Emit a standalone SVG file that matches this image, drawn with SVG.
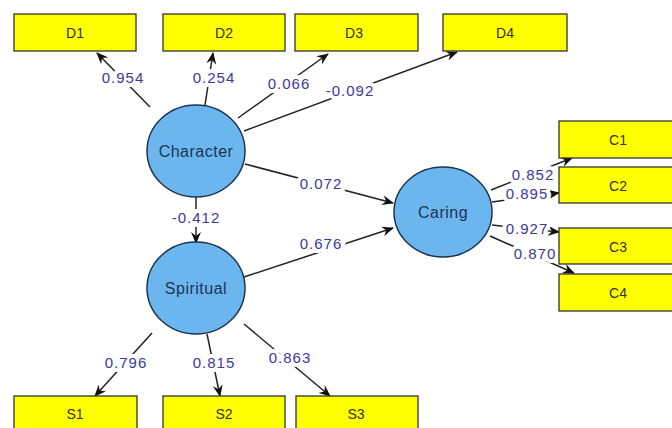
<svg xmlns="http://www.w3.org/2000/svg" width="672" height="428" viewBox="0 0 672 428">
<style>
.box{fill:#ffff00;stroke:#333;stroke-width:1.3}
.lv{fill:#6cb6f0;stroke:#1e3550;stroke-width:1.5}
.bt{font-family:"Liberation Sans",Arial,sans-serif;font-size:14px;fill:#333;text-anchor:middle}
.ct{font-family:"Liberation Sans",Arial,sans-serif;font-size:16px;letter-spacing:0.5px;fill:#1e3550;text-anchor:middle}
.lb{font-family:"Liberation Sans",Arial,sans-serif;font-size:15px;letter-spacing:1px;fill:#3a3a9a;text-anchor:middle;stroke:#fff;stroke-width:8;paint-order:stroke}
.ln{stroke:#222;stroke-width:1.5;fill:none;marker-end:url(#ah)}
</style>
<defs>
<marker id="ah" viewBox="0 0 12 10" refX="11" refY="5" markerWidth="12" markerHeight="10" markerUnits="userSpaceOnUse" orient="auto">
<path d="M0,0 L12,5 L0,10 L4,5 z" fill="#111"/>
</marker>
</defs>
<rect width="672" height="428" fill="#fff"/>
<g id="connectors">
<line class="ln" x1="150" y1="107" x2="97" y2="53"/>
<line class="ln" x1="205" y1="105" x2="213" y2="53"/>
<line class="ln" x1="238" y1="118" x2="328" y2="54"/>
<line class="ln" x1="244" y1="131" x2="457" y2="52"/>
<line class="ln" x1="245" y1="164" x2="393" y2="203"/>
<line class="ln" x1="196" y1="197" x2="196" y2="243"/>
<line class="ln" x1="244" y1="277" x2="393" y2="228"/>
<line class="ln" x1="491" y1="190" x2="572" y2="158"/>
<line class="ln" x1="492" y1="202" x2="559" y2="193"/>
<line class="ln" x1="492" y1="225" x2="559" y2="232"/>
<line class="ln" x1="490" y1="236" x2="574" y2="273"/>
<line class="ln" x1="152" y1="333" x2="95" y2="396"/>
<line class="ln" x1="207" y1="334" x2="220" y2="396"/>
<line class="ln" x1="244" y1="324" x2="330" y2="396"/>
<text class="lb" x="123" y="83">0.954</text>
<text class="lb" x="214" y="83">0.254</text>
<text class="lb" x="289" y="89">0.066</text>
<text class="lb" x="350" y="96">-0.092</text>
<text class="lb" x="321" y="189">0.072</text>
<text class="lb" x="196" y="223">-0.412</text>
<text class="lb" x="321" y="249">0.676</text>
<text class="lb" x="533" y="180">0.852</text>
<text class="lb" x="527" y="199">0.895</text>
<text class="lb" x="527" y="234">0.927</text>
<text class="lb" x="535" y="259">0.870</text>
<text class="lb" x="126" y="368">0.796</text>
<text class="lb" x="214" y="368">0.815</text>
<text class="lb" x="290" y="363">0.863</text>
</g>
<g id="D1"><rect class="box" x="14" y="14" width="122" height="37"/><text class="bt" x="75" y="38">D1</text></g>
<g id="D2"><rect class="box" x="163" y="14" width="122" height="37"/><text class="bt" x="224" y="38">D2</text></g>
<g id="D3"><rect class="box" x="295" y="14" width="123" height="37"/><text class="bt" x="354" y="38">D3</text></g>
<g id="D4"><rect class="box" x="443" y="14" width="124" height="37"/><text class="bt" x="505" y="38">D4</text></g>
<g id="C1"><rect class="box" x="559" y="121" width="130" height="37"/><text class="bt" x="618" y="145">C1</text></g>
<g id="C2"><rect class="box" x="559" y="167" width="130" height="36"/><text class="bt" x="618" y="191">C2</text></g>
<g id="C3"><rect class="box" x="559" y="228" width="130" height="36"/><text class="bt" x="618" y="252">C3</text></g>
<g id="C4"><rect class="box" x="559" y="274" width="130" height="37"/><text class="bt" x="618" y="298">C4</text></g>
<g id="S1"><rect class="box" x="14" y="396" width="123" height="40"/><text class="bt" x="75" y="419">S1</text></g>
<g id="S2"><rect class="box" x="163" y="396" width="122" height="40"/><text class="bt" x="224" y="419">S2</text></g>
<g id="S3"><rect class="box" x="296" y="396" width="122" height="40"/><text class="bt" x="356" y="419">S3</text></g>
<g id="Character"><ellipse class="lv" cx="196" cy="151" rx="49" ry="46"/><text class="ct" x="196" y="157">Character</text></g>
<g id="Spiritual"><ellipse class="lv" cx="196" cy="288" rx="49" ry="46"/><text class="ct" x="196" y="294">Spiritual</text></g>
<g id="Caring"><ellipse class="lv" cx="443" cy="212" rx="49" ry="45"/><text class="ct" x="443" y="218">Caring</text></g>
</svg>
